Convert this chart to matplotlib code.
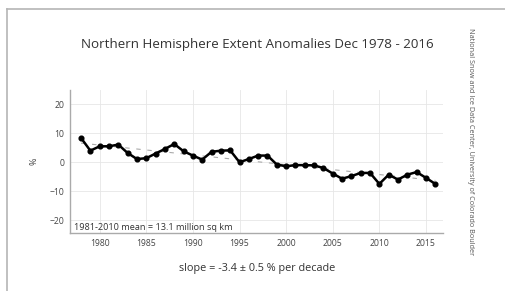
import numpy as np
import matplotlib
matplotlib.use("Agg")
import matplotlib.pyplot as plt
from matplotlib.lines import Line2D

# December extent anomalies (%)
years = list(range(1978, 2017))
anomaly = [8.4, 4.0, 5.5, 5.5, 6.1, 3.2, 1.1, 1.4, 3.0, 4.6,
           6.3, 3.8, 2.3, 0.9, 3.6, 4.0, 4.1, 0.0, 1.1, 2.3,
           2.3, -0.8, -1.4, -1.0, -1.0, -1.1, -2.0, -3.9, -5.7, -4.8,
           -3.7, -3.7, -7.5, -4.3, -6.0, -4.3, -3.4, -5.4, -7.5]
y_ticks = [-20, -10, 0, 10, 20]
x_ticks = [1980, 1985, 1990, 1995, 2000, 2005, 2010, 2015]

plt.rcParams['font.family'] = ['Open Sans', 'DejaVu Sans']

fig = plt.figure(figsize=(5.06, 2.91), dpi=100)
ax = fig.add_axes([0.138, 0.199, 0.737, 0.492])

# linear trend fitted to the anomalies
coef = np.polyfit(years, anomaly, 1)
trend = np.polyval(coef, years)
ax.plot(years, trend, color='#aaaaaa', lw=0.8, ls=(0, (4, 6)), zorder=2)

ax.plot(years, anomaly, color='black', lw=1.8, marker='o', ms=3.4, zorder=3)

ax.set_xlim(1976.8, 2016.8)
ax.set_ylim(-24.5, 25)
ax.set_xticks(x_ticks)
ax.set_yticks(y_ticks)
ax.tick_params(length=0, labelsize=6.2, labelcolor='#444444', pad=4)
ax.grid(True, color='#e6e6e6', lw=0.6)
ax.set_axisbelow(True)
for s in ['top', 'right']:
    ax.spines[s].set_visible(False)
for s in ['left', 'bottom']:
    ax.spines[s].set_color('#aaaaaa')
    ax.spines[s].set_linewidth(1.0)

ax.set_ylabel('%', fontsize=6.5, color='#444444', labelpad=8)
ax.text(0.01, 0.04, '1981-2010 mean = 13.1 million sq km', transform=ax.transAxes,
        fontsize=6.6, color='#333333', ha='left', va='center')

fig.text(0.508, 0.848, 'Northern Hemisphere Extent Anomalies Dec 1978 - 2016',
         fontsize=9.6, color='#333333', ha='center', va='center')
fig.text(0.508, 0.076, 'slope = -3.4 \u00b1 0.5 % per decade',
         fontsize=7.8, color='#333333', ha='center', va='center')
fig.text(0.929, 0.515, 'National Snow and Ice Data Center, University of Colorado Boulder',
         fontsize=5.2, color='#555555', rotation=270, ha='center', va='center')

# frame lines from the source image border
fig.add_artist(Line2D([0.013, 1.0], [0.969, 0.969], color='#b5b5b5', lw=1.2))
fig.add_artist(Line2D([0.013, 0.013], [0.0, 0.969], color='#b5b5b5', lw=1.2))

fig.savefig('out.png', dpi=100)
